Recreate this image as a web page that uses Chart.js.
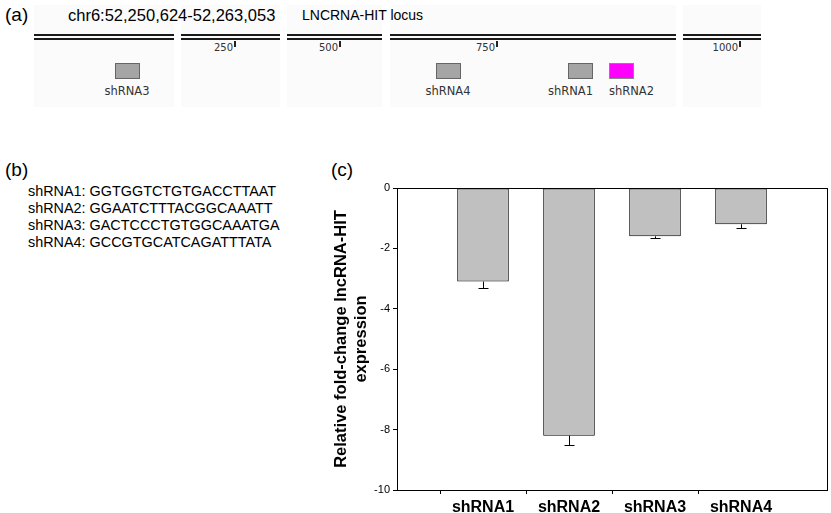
<!DOCTYPE html>
<html>
<head>
<meta charset="utf-8">
<script src="https://cdn.jsdelivr.net/npm/chart.js@4.4.1/dist/chart.umd.min.js"></script>
<style>
    body { margin: 0; width: 831px; height: 513px; overflow: hidden; background: #fff; position: relative; font-family: Arial, 'Liberation Sans', sans-serif; color: #000; }
    .t { position: absolute; white-space: nowrap; line-height: 20px; }
    .panel { font-size: 19px; }
    .blk { position: absolute; top: 5px; height: 102px; background: #fbfbfb; }
    .seg { position: absolute; top: 34px; height: 2px; border-top: 2px solid #1a1a1a; border-bottom: 2px solid #1a1a1a; }
    .tk { position: absolute; top: 41px; width: 2px; height: 6px; background: #222; }
    .tkl { position: absolute; top: 42px; line-height: 12px; font: 10px 'DejaVu Sans', Verdana, sans-serif; color: #333; }
    .box { position: absolute; top: 63px; width: 23px; height: 14px; border: 1px solid #666; background: #a5a5a5; }
    .boxl { position: absolute; top: 84px; line-height: 12px; font: 11.5px 'DejaVu Sans', Verdana, sans-serif; color: #333; white-space: nowrap; }
    .seq { position: absolute; left: 28px; top: 183px; font-size: 14.4px; line-height: 17px; white-space: nowrap; }
    #chartBox { position: absolute; left: 320px; top: 150px; width: 511px; height: 380px; }
</style>
</head>
<body>

<!-- (a) locus view -->
<div class="blk" style="left:34px;width:140px"></div>
<div class="blk" style="left:181px;width:99px"></div>
<div class="blk" style="left:287px;width:95px"></div>
<div class="blk" style="left:390px;width:286px"></div>
<div class="blk" style="left:683px;width:78px"></div>

<div class="t panel" style="left:5px;top:5px">(a)</div>
<div class="t" style="left:68px;top:5px;font-size:16.5px">chr6:52,250,624-52,263,053</div>
<div class="t" style="left:302px;top:5px;font-size:14px">LNCRNA-HIT locus</div>

<div class="seg" style="left:34px;width:140px"></div>
<div class="seg" style="left:181px;width:99px"></div>
<div class="seg" style="left:287px;width:95px"></div>
<div class="seg" style="left:390px;width:286px"></div>
<div class="seg" style="left:683px;width:78px"></div>

<div class="tk" style="left:234px"></div><div class="tkl" style="right:598px">250</div>
<div class="tk" style="left:339px"></div><div class="tkl" style="right:493px">500</div>
<div class="tk" style="left:496px"></div><div class="tkl" style="right:336px">750</div>
<div class="tk" style="left:739px"></div><div class="tkl" style="right:93px">1000</div>

<div class="box" style="left:115px"></div><div class="boxl" style="left:127px;transform:translateX(-50%)">shRNA3</div>
<div class="box" style="left:436px"></div><div class="boxl" style="left:448px;transform:translateX(-50%)">shRNA4</div>
<div class="box" style="left:568px"></div><div class="boxl" style="right:238px">shRNA1</div>
<div class="box" style="left:609px;background:#ff00ff;border-color:#888"></div><div class="boxl" style="left:609px">shRNA2</div>

<!-- (b) sequences -->
<div class="t panel" style="left:5px;top:160px">(b)</div>
<div class="seq">
    shRNA1: GGTGGTCTGTGACCTTAAT<br>
    shRNA2: GGAATCTTTACGGCAAATT<br>
    shRNA3: GACTCCCTGTGGCAAATGA<br>
    shRNA4: GCCGTGCATCAGATTTATA
</div>

<!-- (c) knockdown chart -->
<div class="t panel" style="left:331px;top:160px">(c)</div>
<div id="chartBox"><canvas id="kdChart"></canvas></div>

<script>
const categories = ['shRNA1', 'shRNA2', 'shRNA3', 'shRNA4'];
const foldChange = [-3.1, -8.2, -1.6, -1.2];
const errorDown = [0.2, 0.3, 0.07, 0.13];
const yTicks = [0, -2, -4, -6, -8, -10];

// empty slots at both ends so the bars sit one step in from each side
const xLabels = [''].concat(categories, ['']);
const barData = [null].concat(foldChange, [null]);

const errorBars = {
    id: 'errorBars',
    afterDatasetsDraw(chart) {
        const meta = chart.getDatasetMeta(0);
        const y = chart.scales.y;
        const ctx = chart.ctx;
        ctx.save();
        ctx.strokeStyle = '#000';
        ctx.lineWidth = 1;
        categories.forEach((c, i) => {
            const x = Math.round(meta.data[i + 1].x) + 0.5;
            const top = y.getPixelForValue(foldChange[i]);
            const end = Math.round(y.getPixelForValue(foldChange[i] - errorDown[i])) + 0.5;
            ctx.beginPath();
            ctx.moveTo(x, top);
            ctx.lineTo(x, end);
            ctx.moveTo(x - 5, end);
            ctx.lineTo(x + 5, end);
            ctx.stroke();
        });
        ctx.restore();
    }
};

const frame = {
    id: 'frame',
    afterDraw(chart) {
        const a = chart.chartArea;
        const ctx = chart.ctx;
        ctx.save();
        ctx.strokeStyle = '#000';
        ctx.lineWidth = 1;
        ctx.strokeRect(Math.round(a.left) + 0.5, Math.round(a.top) + 0.5, Math.round(a.right - a.left), Math.round(a.bottom - a.top));
        ctx.restore();
    }
};

new Chart(document.getElementById('kdChart'), {
    type: 'bar',
    data: {
        labels: xLabels,
        datasets: [
            {
                data: barData,
                backgroundColor: '#c0c0c0',
                borderColor: '#000',
                borderWidth: 1,
                borderSkipped: false,
                barPercentage: 0.6,
                categoryPercentage: 1
            }
        ]
    },
    options: {
        responsive: true,
        maintainAspectRatio: false,
        animation: false,
        layout: {
            padding: { top: 38, right: 3, left: 0, bottom: 0 }
        },
        plugins: {
            legend: { display: false },
            tooltip: { enabled: false }
        },
        scales: {
            x: {
                offset: false,
                afterFit: (scale) => { scale.height = 40; },
                border: { display: true, color: '#000', width: 1 },
                grid: {
                    drawOnChartArea: false,
                    drawTicks: true,
                    tickLength: 4,
                    tickColor: (ctx) => (ctx.index > 0 && ctx.index < xLabels.length - 1 ? '#000' : 'transparent')
                },
                ticks: {
                    color: '#000',
                    maxRotation: 0,
                    autoSkip: false,
                    padding: 4,
                    font: {
                        family: "Arial, 'Liberation Sans', sans-serif",
                        size: 16,
                        weight: 'bold'
                    }
                }
            },
            y: {
                min: -10,
                max: 0,
                afterFit: (scale) => { scale.width = 77; },
                afterBuildTicks: (scale) => { scale.ticks = yTicks.map(v => ({ value: v })); },
                border: { display: true, color: '#000', width: 1 },
                grid: {
                    drawOnChartArea: false,
                    drawTicks: true,
                    tickLength: 4,
                    tickColor: '#000'
                },
                ticks: {
                    color: '#000',
                    padding: 3,
                    font: {
                        family: "Arial, 'Liberation Sans', sans-serif",
                        size: 11
                    }
                },
                title: {
                    display: true,
                    text: ['Relative fold-change lncRNA-HIT', 'expression'],
                    color: '#000',
                    padding: { top: 12, bottom: 0 },
                    font: {
                        family: "Arial, 'Liberation Sans', sans-serif",
                        size: 16.5,
                        weight: 'bold',
                        lineHeight: 1.2
                    }
                }
            }
        }
    },
    plugins: [errorBars, frame]
});
</script>
</body>
</html>
